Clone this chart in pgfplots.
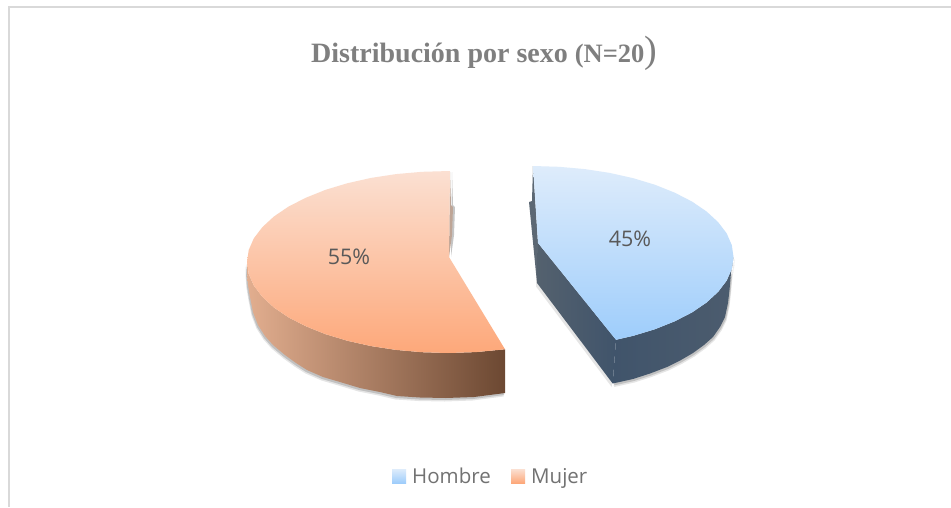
\documentclass[border=0pt]{standalone}
\usepackage{pgfplots}
\usepackage{pgfplotstable}
\usepackage{fontspec}
\pgfplotsset{compat=1.18}
\setmainfont{Open Sans}
\newfontfamily\serifb{Liberation Serif}[Scale=1]
\definecolor{frameg}{HTML}{D9D9D9}
\definecolor{lab}{HTML}{595959}
\definecolor{tit}{HTML}{7F7F7F}
\pgfplotstableread{
x y
450 171
421.8 171.8
396 174.1
371.1 177.9
347.5 183.2
325.6 189.8
305.9 197.7
288.5 206.6
273.9 216.5
262.3 227.2
253.8 238.4
248.7 250.1
247 262
248.7 273.9
253.8 285.6
262.3 296.8
273.9 307.5
288.5 317.4
305.9 326.3
325.6 334.2
347.5 340.8
371.1 346.1
396 349.9
421.8 352.2
448 353
476 352.1
505 349.3
449 257
}\orangetop
\pgfplotstableread{
x y
247 262
248.7 273.9
253.8 285.6
262.3 296.8
273.9 307.5
288.5 317.4
305.9 326.3
325.6 334.2
347.5 340.8
371.1 346.1
396 349.9
421.8 352.2
448 353
476 352.1
505 349.3
505 393
474 397
446 398
420 397.5
397 396
380 392
360 388
340 382
323 377
307 370
296 363
285 355
273 345
265 336
258 325
253 312
250 297
248 285
247 272
}\orangeside
\pgfplotstableread{
x y
450 172
451 205
453 207
452 235
449 257
}\orangeback
\pgfplotstableread{
x y
533 166
559.2 166.8
584.9 169.1
609.7 172.9
633.3 178.2
655.1 184.8
674.8 192.7
692.1 201.6
706.6 211.5
718.2 222.2
726.7 233.4
731.8 245.1
733.5 257
731.8 268.9
726.7 280.6
718.2 291.8
706.6 302.5
692.1 312.4
674.8 321.3
655.1 329.2
633.3 335.8
616 339.8
538 243
}\bluetop
\pgfplotstableread{
x y
616 339.8
633.3 335.8
655.1 329.2
674.8 321.3
692.1 312.4
706.6 302.5
718.2 291.8
726.7 280.6
731.8 268.9
733.5 257
732.5 263
731 273
729.5 290
728 303
725 317
720 327
713 337
704 345
693 353
681 360
667 367
650 373.5
633 379
612.7 383.5
}\bluefront
\pgfplotstableread{
x y
538 243
616 339.8
612.7 383.5
537 283
}\bluewall
\pgfplotstableread{
x y
533 166
538 243
537 283
529 202
532 201
}\blueback
\pgfplotstableread{
x y
392 469
406 469
406 483
392 483
}\legA
\pgfplotstableread{
x y
511 469
525 469
525 483
511 483
}\legB
\begin{document}
\begin{tikzpicture}
\begin{axis}[
  scale only axis, width=951pt, height=507pt,
  xmin=0, xmax=951, ymin=0, ymax=507, y dir=reverse,
  hide axis, clip=true,
]
\addplot[draw=none, fill=white] coordinates {(0,0) (951,0) (951,507) (0,507)};
\addplot[frameg, line width=2pt] coordinates {(951,7) (9,7) (9,507)};
% shadows
\addplot[draw=none, fill=gray, opacity=.2, xshift=-1.5pt, yshift=-3.5pt] table {\orangeside};
\addplot[draw=none, fill=gray, opacity=.35, xshift=-1pt, yshift=-2pt] table {\orangeside};
\addplot[draw=none, fill=gray, opacity=.2, xshift=-1pt, yshift=-3.5pt] table {\bluewall};
\addplot[draw=none, fill=gray, opacity=.2, xshift=1.5pt, yshift=-3.5pt] table {\bluefront};
\addplot[draw=none, fill=gray, opacity=.35, xshift=1pt, yshift=-2pt] table {\bluefront};
\addplot[draw=none, fill=gray, opacity=.45, xshift=2pt] table {\orangeback};
% orange
\addplot[draw=none, fill={rgb,255:red,190;green,165;blue,150}] table {\orangeback};
\addplot[draw=none, left color={rgb,255:red,226;green,174;blue,143}, right color={rgb,255:red,108;green,72;blue,50}] table {\orangeside};
\addplot[draw=none, top color={rgb,255:red,251;green,224;blue,210}, bottom color={rgb,255:red,253;green,168;blue,122}] table {\orangetop};
% blue
\addplot[draw=none, fill={rgb,255:red,92;green,104;blue,116}] table {\blueback};
\addplot[draw=none, left color={rgb,255:red,84;green,97;blue,110}, right color={rgb,255:red,64;green,84;blue,107}] table {\bluewall};
\addplot[draw=none, left color={rgb,255:red,64;green,84;blue,107}, right color={rgb,255:red,76;green,92;blue,110}] table {\bluefront};
\addplot[draw=none, top color={rgb,255:red,222;green,236;blue,251}, bottom color={rgb,255:red,158;green,205;blue,251}] table {\bluetop};
% legend keys
\addplot[draw=none, top color={rgb,255:red,222;green,236;blue,251}, bottom color={rgb,255:red,158;green,205;blue,251}] table {\legA};
\addplot[draw=none, top color={rgb,255:red,251;green,224;blue,210}, bottom color={rgb,255:red,253;green,168;blue,122}] table {\legB};
% texts
\node[text=lab, font=\fontsize{21.5}{24}\selectfont, inner sep=0pt] at (axis cs:349,257) {55\%};
\node[text=lab, font=\fontsize{21.5}{24}\selectfont, inner sep=0pt] at (axis cs:630,239) {45\%};
\node[text=lab!85, font=\fontsize{20.5}{24}\selectfont, inner sep=0pt, anchor=base west] at (axis cs:412,483) {Hombre};
\node[text=lab!85, font=\fontsize{20.5}{24}\selectfont, inner sep=0pt, anchor=base west] at (axis cs:531,483) {Mujer};
\node[text=tit, inner sep=0pt, anchor=base west] at (axis cs:311,62) {\serifb\bfseries\fontsize{28}{30}\selectfont Distribución por sexo \fontsize{26.5}{30}\selectfont(N=20\fontsize{38}{40}\selectfont\mdseries)};
\end{axis}
\end{tikzpicture}
\end{document}
